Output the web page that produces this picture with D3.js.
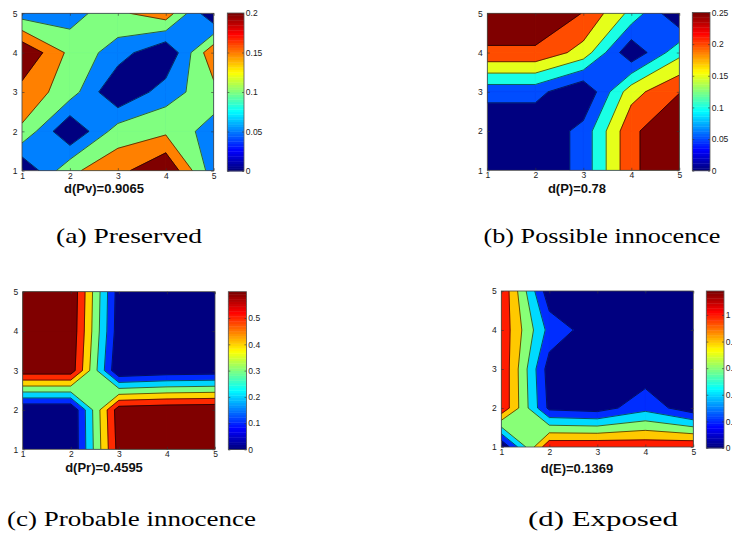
<!DOCTYPE html>
<html><head><meta charset="utf-8">
<script src="https://cdn.jsdelivr.net/npm/d3@7"></script>
<style>body{margin:0;background:#fff}svg{display:block}</style>
</head><body>
<svg id="fig" width="732" height="535"></svg>
<script>
// ---------------- DATA ----------------
const xTicks = [1, 2, 3, 4, 5];
const yTicks = [1, 2, 3, 4, 5];

// Each grid: rows are y = 1..5 (bottom to top), columns are x = 1..5
const preservedZ = [
  [0.000, 0.140, 0.183, 0.250, 0.070],
  [0.142, 0.000, 0.125, 0.140, 0.075],
  [0.181, 0.125, 0.000, 0.076, 0.133],
  [0.248, 0.137, 0.075, 0.000, 0.190],
  [0.074, 0.075, 0.140, 0.180, 0.000]
];
const preservedLevels = [0.05, 0.10, 0.15, 0.20];
const preservedCbTicks = [0, 0.05, 0.1, 0.15, 0.2];

const possibleZ = [
  [0.000, 0.004, 0.068, 0.240, 0.295],
  [0.004, 0.004, 0.068, 0.240, 0.295],
  [0.068, 0.068, 0.000, 0.180, 0.248],
  [0.240, 0.240, 0.180, 0.008, 0.135],
  [0.295, 0.295, 0.248, 0.135, 0.000]
];
const possibleLevels = [0.05, 0.10, 0.15, 0.20, 0.25];
const possibleCbTicks = [0, 0.05, 0.1, 0.15, 0.2, 0.25];

const probableZ = [
  [0.00, 0.00, 0.64, 0.69, 0.69],
  [0.00, 0.00, 0.66, 0.68, 0.69],
  [0.66, 0.66, 0.00, 0.03, 0.04],
  [0.69, 0.68, 0.04, 0.00, 0.00],
  [0.69, 0.69, 0.05, 0.00, 0.00]
];
const probableLevels = [0.1, 0.2, 0.3, 0.4, 0.5, 0.6];
const probableCbTicks = [0, 0.1, 0.2, 0.3, 0.4, 0.5];

const exposedZ = [
  [0.00, 1.17, 1.18, 1.15, 1.18],
  [1.17, 0.15, 0.10, 0.33, 0.06],
  [1.18, 0.10, 0.00, 0.07, 0.00],
  [1.15, 0.33, 0.07, 0.00, 0.205],
  [1.18, 0.06, 0.00, 0.205, 0.00]
];
const exposedLevels = [0.2, 0.4, 0.6, 0.8, 1.0];
const exposedCbTicks = [0, 0.2, 0.4, 0.6, 0.8, 1];

const colorbarMax = [0.2, 0.25, 0.6, 1.18];
const titles = ["d(Pv)=0.9065", "d(P)=0.78", "d(Pr)=0.4595", "d(E)=0.1369"];
const captions = ["(a) Preserved", "(b) Possible innocence", "(c) Probable innocence", "(d) Exposed"];

// ---------------- LAYOUT ----------------
const layout = [
  {plot:[22, 213.7, 13.3, 170.7], cb:[227.3, 244, 13, 171], title:[104, 192.5], cap:[129, 243, 146]},
  {plot:[487.3, 679.3, 13.3, 170.3], cb:[692.3, 710, 12.5, 170.7], title:[577, 192.5], cap:[602, 243, 237]},
  {plot:[22.7, 215, 291.7, 449.3], cb:[228.3, 246.5, 291.7, 449.5], title:[104, 471.5], cap:[131.5, 526, 249]},
  {plot:[501.3, 693.3, 291, 447], cb:[706.3, 724, 291, 448], title:[577, 472.5], cap:[603, 526, 150]}
];
const grids = [preservedZ, possibleZ, probableZ, exposedZ];
const levelSets = [preservedLevels, possibleLevels, probableLevels, exposedLevels];
const cbTickSets = [preservedCbTicks, possibleCbTicks, probableCbTicks, exposedCbTicks];

// ---------------- HELPERS ----------------
function jet(t){
  t = Math.max(0, Math.min(1, t));
  const f = v => Math.round(255*Math.max(0, Math.min(1, v)));
  return `rgb(${f(1.5-Math.abs(4*t-3))},${f(1.5-Math.abs(4*t-2))},${f(1.5-Math.abs(4*t-1))})`;
}

// marching squares (linear edges, straight segments, saddle by cell mean)
function contourCells(z, L){
  const polys = [], segs = [];
  const ny = z.length, nx = z[0].length;
  for (let j = 0; j < ny-1; j++) for (let i = 0; i < nx-1; i++){
    const c = [[i+1, j+1, z[j][i]], [i+2, j+1, z[j][i+1]], [i+2, j+2, z[j+1][i+1]], [i+1, j+2, z[j+1][i]]];
    const above = c.map(p => p[2] >= L);
    const n = above.filter(Boolean).length;
    if (n === 0) continue;
    if (n === 4){ polys.push(c.map(p => [p[0], p[1]])); continue; }
    const cross = k => { const a = c[k], b = c[(k+1)%4]; const t = (L-a[2])/(b[2]-a[2]); return [a[0]+t*(b[0]-a[0]), a[1]+t*(b[1]-a[1])]; };
    const center = (c[0][2]+c[1][2]+c[2][2]+c[3][2])/4;
    const saddle = n === 2 && above[0] === above[2];
    if (saddle && center < L){
      for (let k = 0; k < 4; k++) if (above[k]){
        const pIn = cross((k+3)%4), pOut = cross(k);
        polys.push([pIn, [c[k][0], c[k][1]], pOut]);
        segs.push([pIn, pOut]);
      }
    } else {
      const poly = [];
      for (let k = 0; k < 4; k++){
        if (above[k]) poly.push([c[k][0], c[k][1]]);
        if (above[k] !== above[(k+1)%4]) poly.push(cross(k));
      }
      polys.push(poly);
      if (saddle){
        for (let k = 0; k < 4; k++) if (!above[k]) segs.push([cross((k+3)%4), cross(k)]);
      } else {
        const pts = [];
        for (let k = 0; k < 4; k++) if (above[k] !== above[(k+1)%4]) pts.push(cross(k));
        segs.push(pts);
      }
    }
  }
  return {polys, segs};
}

// ---------------- DRAW ----------------
const svg = d3.select("#fig");
const defs = svg.append("defs");
const tickFont = "'Liberation Sans', Arial, sans-serif";

grids.forEach((z, pi) => {
  const lay = layout[pi];
  const [px0, px1, py0, py1] = lay.plot;
  const cmax = colorbarMax[pi];
  const xs = d3.scaleLinear().domain([1, 5]).range([px0, px1]);
  const ys = d3.scaleLinear().domain([1, 5]).range([py1, py0]);
  const g = svg.append("g");

  defs.append("clipPath").attr("id", "clip"+pi).append("rect")
    .attr("x", px0).attr("y", py0).attr("width", px1-px0).attr("height", py1-py0);
  const plot = g.append("g").attr("clip-path", `url(#clip${pi})`);
  plot.append("rect").attr("x", px0).attr("y", py0).attr("width", px1-px0).attr("height", py1-py0)
    .attr("fill", jet(0));

  const line = d3.line().x(d => xs(d[0])).y(d => ys(d[1]));
  const allSegs = [];
  levelSets[pi].forEach(L => {
    const {polys, segs} = contourCells(z, L);
    const col = jet(L/cmax);
    plot.append("g").selectAll("path").data(polys).join("path")
      .attr("d", d => line(d) + "Z")
      .attr("fill", col).attr("stroke", col).attr("stroke-width", 0.8).attr("stroke-linejoin", "round");
    allSegs.push(...segs);
  });
  plot.append("g").selectAll("path").data(allSegs).join("path")
    .attr("d", line).attr("fill", "none").attr("stroke", "#000").attr("stroke-width", 0.6);

  // axes with inward ticks
  const styleAxis = s => {
    s.select(".domain").remove();
    s.selectAll(".tick line").attr("stroke", "#333").attr("stroke-width", 0.6);
    s.selectAll(".tick text").attr("fill", "#222").attr("font-size", 8.5).attr("font-family", tickFont);
  };
  g.append("g").attr("transform", `translate(0,${py1})`)
    .call(d3.axisBottom(xs).tickValues(xTicks).tickSizeInner(-2.5).tickSizeOuter(0).tickPadding(1.8).tickFormat(d3.format("d")))
    .call(styleAxis);
  g.append("g").attr("transform", `translate(${px0},0)`)
    .call(d3.axisLeft(ys).tickValues(yTicks).tickSizeInner(-2.5).tickSizeOuter(0).tickPadding(4.5).tickFormat(d3.format("d")))
    .call(styleAxis);
  g.append("g").attr("transform", `translate(0,${py0})`)
    .call(d3.axisTop(xs).tickValues(xTicks).tickSizeInner(-2.5).tickSizeOuter(0).tickFormat(""))
    .call(styleAxis);
  g.append("g").attr("transform", `translate(${px1},0)`)
    .call(d3.axisRight(ys).tickValues(yTicks).tickSizeInner(-2.5).tickSizeOuter(0).tickFormat(""))
    .call(styleAxis);
  g.append("rect").attr("x", px0).attr("y", py0).attr("width", px1-px0).attr("height", py1-py0)
    .attr("fill", "none").attr("stroke", "#444").attr("stroke-width", 0.8);

  // colorbar
  const [cx0, cx1, cy0, cy1] = lay.cb;
  const cs = d3.scaleLinear().domain([0, cmax]).range([cy1, cy0]);
  const nC = 64;
  g.append("g").selectAll("rect").data(d3.range(nC)).join("rect")
    .attr("x", cx0).attr("width", cx1-cx0)
    .attr("y", k => cs((k+1)/nC*cmax)).attr("height", k => cs(k/nC*cmax) - cs((k+1)/nC*cmax) + 0.4)
    .attr("fill", k => jet(k/(nC-1)));
  const cbFmt = d => d === 0 ? "0" : String(d);
  g.append("g").attr("transform", `translate(${cx1},0)`)
    .call(d3.axisRight(cs).tickValues(cbTickSets[pi]).tickSizeInner(-2).tickSizeOuter(0).tickPadding(1.8).tickFormat(cbFmt))
    .call(styleAxis);
  g.append("g").attr("transform", `translate(${cx0},0)`)
    .call(d3.axisLeft(cs).tickValues(cbTickSets[pi]).tickSizeInner(-2).tickSizeOuter(0).tickFormat(""))
    .call(styleAxis);
  g.append("rect").attr("x", cx0).attr("y", cy0).attr("width", cx1-cx0).attr("height", cy1-cy0)
    .attr("fill", "none").attr("stroke", "#555").attr("stroke-width", 0.8);

  // title under the plot
  g.append("text").attr("x", lay.title[0]).attr("y", lay.title[1])
    .attr("text-anchor", "middle").attr("font-family", tickFont).attr("font-weight", "bold")
    .attr("font-size", 13).attr("fill", "#111").text(titles[pi]);

  // caption
  g.append("text").attr("x", lay.cap[0]).attr("y", lay.cap[1])
    .attr("text-anchor", "middle").attr("font-family", "'Liberation Serif', 'Times New Roman', Times, serif")
    .attr("font-size", 21).attr("fill", "#000")
    .attr("textLength", lay.cap[2]).attr("lengthAdjust", "spacingAndGlyphs")
    .text(captions[pi]);
});
</script>
</body></html>
